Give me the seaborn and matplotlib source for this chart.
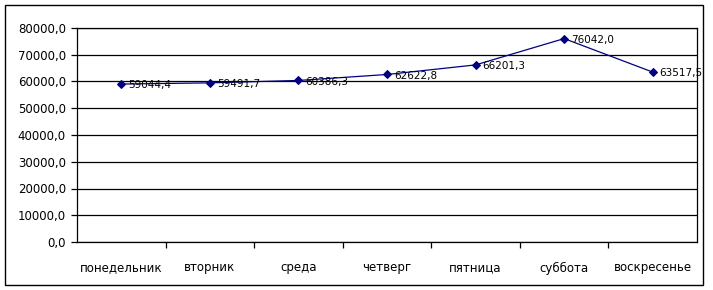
import matplotlib
matplotlib.use("Agg")
import matplotlib.pyplot as plt
import matplotlib.patches as mpatches
import seaborn as sns
import pandas as pd
import numpy as np

days = ["понедельник", "вторник", "среда", "четверг", "пятница", "суббота", "воскресенье"]
values = [59044.4, 59491.7, 60386.3, 62622.8, 66201.3, 76042.0, 63517.5]
yticks = [0, 10000, 20000, 30000, 40000, 50000, 60000, 70000, 80000]

sns.set_theme(style="white")
plt.rcParams['font.family'] = ['DejaVu Sans']

df = pd.DataFrame({"day": days, "value": values})

fig = plt.figure(figsize=(7.13, 2.9), dpi=100)
ax = fig.add_axes([77/713, 48/290, 620/713, 214/290])

navy = "#000080"
sns.lineplot(data=df, x="day", y="value", ax=ax, color=navy, linewidth=0.9,
             marker="D", markersize=4.5, markeredgecolor=navy, markerfacecolor=navy, sort=False)

ax.set_ylim(0, 80000)
ax.set_xlim(-0.5, len(days) - 0.5)
ax.set_yticks(yticks)
ax.set_yticklabels([f"{v:.1f}".replace(".", ",") for v in yticks], fontsize=8.5, color="black")
ax.yaxis.grid(True, color="black", linewidth=0.9)
ax.xaxis.grid(False)
ax.set_axisbelow(True)
ax.tick_params(axis="y", which="major", length=4, width=0.9, color="black", direction="out", left=True, pad=4)

ax.set_xticks(range(len(days)))
ax.set_xticklabels(days, fontsize=8.5, color="black")
ax.set_xticks(np.arange(0.5, len(days) - 0.5, 1), minor=True)
ax.tick_params(axis="x", which="major", length=0, pad=14)
ax.tick_params(axis="x", which="minor", length=4, width=0.9, color="black", direction="out", bottom=True)
ax.set_xlabel("")
ax.set_ylabel("")

for s in ax.spines.values():
    s.set_color("black")
    s.set_linewidth(0.9)
    s.set_visible(True)

for i, v in enumerate(values):
    ax.annotate(f"{v:.1f}".replace(".", ","), (i, v), xytext=(5, -1), textcoords="offset points",
                va="center", ha="left", fontsize=7.5, color="black")

rect = mpatches.Rectangle((5/713, 5/290), 698/713, 280/290, transform=fig.transFigure,
                          fill=False, edgecolor="black", linewidth=1)
fig.patches.append(rect)

fig.savefig("out.png", dpi=100)
